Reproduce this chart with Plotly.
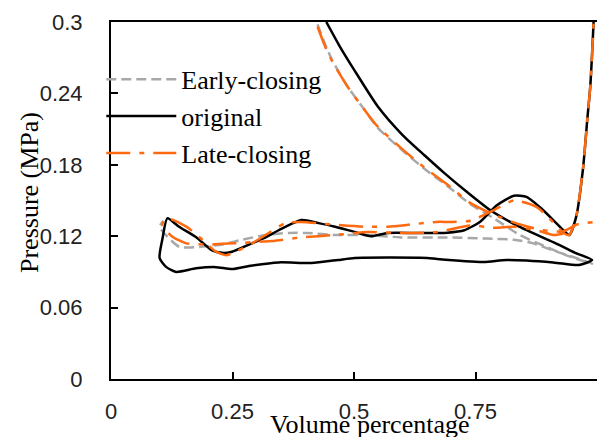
import plotly.graph_objects as go

# ---- data ----
# original (solid black): compression curve -> lower branch back -> upper wavy branch -> vertical rise
orig_x = [0.443, 0.47, 0.5, 0.549, 0.6, 0.645, 0.686, 0.73, 0.78, 0.84, 0.91, 0.955, 0.99,
          0.963, 0.91, 0.814, 0.767, 0.671, 0.651, 0.502, 0.467, 0.412, 0.345, 0.284, 0.249, 0.216,
          0.175, 0.134, 0.114, 0.1,
          0.106, 0.116,
          0.14, 0.176, 0.208, 0.229, 0.249, 0.284, 0.318, 0.345, 0.392, 0.427, 0.461, 0.502, 0.535,
          0.569, 0.631, 0.692, 0.727, 0.759, 0.794, 0.829, 0.855, 0.882, 0.91, 0.931, 0.943,
          0.957, 0.971, 0.98, 0.986, 0.99, 0.993]
orig_y = [0.3, 0.28, 0.26, 0.229, 0.205, 0.188, 0.173, 0.158, 0.142, 0.128, 0.115, 0.106, 0.1,
          0.0958, 0.098, 0.100, 0.0983, 0.1008, 0.1017, 0.1017, 0.100, 0.0975, 0.098, 0.095, 0.0924,
          0.094, 0.093, 0.090, 0.094, 0.1017,
          0.118, 0.135,
          0.128, 0.119, 0.108, 0.106, 0.107, 0.113, 0.119, 0.125, 0.1336, 0.131, 0.128, 0.1235, 0.120,
          0.1227, 0.1227, 0.123, 0.125, 0.132, 0.146, 0.154, 0.153, 0.1445, 0.1336, 0.125, 0.121,
          0.136, 0.176, 0.218, 0.245, 0.274, 0.3]

# Early-closing (grey dashed)
early_x = [0.425, 0.44, 0.455, 0.488, 0.522, 0.549, 0.6, 0.65, 0.69, 0.739, 0.788, 0.841,
           0.89, 0.943, 0.99,
           0.957, 0.91, 0.869, 0.829, 0.773, 0.692, 0.596, 0.529, 0.461, 0.406, 0.365, 0.318,
           0.269, 0.229, 0.182, 0.141, 0.115, 0.1, 0.108]
early_y = [0.298, 0.282, 0.268, 0.245, 0.226, 0.211, 0.192, 0.175, 0.163, 0.147, 0.135, 0.121,
           0.112, 0.103, 0.097,
           0.1017, 0.108, 0.114, 0.117, 0.118, 0.119, 0.119, 0.121, 0.121, 0.1227, 0.1227, 0.121,
           0.117, 0.113, 0.111, 0.111, 0.12, 0.128, 0.133]

# Late-closing (orange dash-dot): compression curve, gap, then loop with vertical rise
late_x = [0.425, 0.44, 0.455, 0.488, 0.522, 0.549, 0.6, 0.65, 0.69, 0.739, 0.788, 0.84,
          0.89, 0.93, 0.96, 1.0, None,
          0.93, 0.91, 0.876, 0.83, 0.79, 0.739, 0.671, 0.6, 0.529, 0.46, 0.392, 0.331, 0.25, 0.2,
          0.155, 0.125, 0.105, 0.116,
          0.155, 0.188, 0.216, 0.237, 0.257, 0.29, 0.318, 0.345, 0.359, 0.392, 0.45, 0.52, 0.57,
          0.62, 0.67, 0.7, 0.74, 0.788, 0.829, 0.876, 0.902, 0.931, 0.943,
          0.957, 0.971, 0.98, 0.986, 0.99, 0.993]
late_y = [0.296, 0.28, 0.267, 0.245, 0.226, 0.212, 0.193, 0.176, 0.164, 0.148, 0.138, 0.13,
          0.125, 0.124, 0.13, 0.132, None,
          0.122, 0.121, 0.125, 0.128, 0.127, 0.129, 0.1235, 0.1227, 0.1235, 0.121, 0.119, 0.116,
          0.114, 0.113, 0.114, 0.12, 0.13, 0.135,
          0.128, 0.117, 0.107, 0.104, 0.107, 0.114, 0.121, 0.128, 0.131, 0.132, 0.13, 0.128, 0.128,
          0.13, 0.132, 0.132, 0.133, 0.142, 0.150, 0.1445, 0.135, 0.1227, 0.121,
          0.136, 0.176, 0.218, 0.245, 0.274, 0.3]

x_ticks = [0, 0.25, 0.5, 0.75, 1]
x_labels = ["0", "0.25", "0.5", "0.75", "1"]
y_ticks = [0, 0.06, 0.12, 0.18, 0.24, 0.3]
y_labels = ["0", "0.06", "0.12", "0.18", "0.24", "0.3"]

GREY = "#A8A8A8"
ORANGE = "#FF6A10"
SERIF = "Liberation Serif, Times New Roman, serif"
SANS = "Liberation Sans, Arial, sans-serif"

fig = go.Figure()
fig.add_trace(go.Scatter(x=early_x, y=early_y, mode="lines", name="Early-closing",
                         line=dict(color=GREY, width=2.5, dash="10px,5px",
                                   shape="spline", smoothing=0.6)))
fig.add_trace(go.Scatter(x=orig_x, y=orig_y, mode="lines", name="original",
                         line=dict(color="black", width=2.5, shape="spline", smoothing=0.6)))
fig.add_trace(go.Scatter(x=late_x, y=late_y, mode="lines", name="Late-closing",
                         line=dict(color=ORANGE, width=2.5, dash="24px,9px,5px,9px",
                                   shape="spline", smoothing=0.6)))

L, R, T, B = 111, 0, 22, 58
W, H = 597, 437
pw = W - L - R
ph = H - T - B


def px_x(x):
    return (x - L) / pw


def px_y(y):
    return (H - B - y) / ph


fig.update_layout(
    width=W, height=H,
    margin=dict(l=L, r=R, t=T, b=B),
    paper_bgcolor="white", plot_bgcolor="white",
    showlegend=True,
    legend=dict(x=-0.02, y=0.905, xanchor="left", yanchor="top",
                bgcolor="rgba(0,0,0,0)", borderwidth=0, itemwidth=70,
                font=dict(family=SERIF, size=26, color="black"),
                tracegroupgap=0),
    annotations=[
        dict(text="Volume percentage", x=px_x(370), y=px_y(424), xref="paper", yref="paper",
             xanchor="center", yanchor="middle",
             showarrow=False, font=dict(family=SERIF, size=26, color="black")),
        dict(text="Pressure (MPa)", x=px_x(29), y=px_y(193), xref="paper", yref="paper",
             xanchor="center", yanchor="middle",
             showarrow=False, textangle=-90, font=dict(family=SERIF, size=26, color="black")),
    ],
)

fig.update_xaxes(range=[0, 1], tickvals=x_ticks, ticktext=x_labels,
                 showline=True, linecolor="black", linewidth=2, mirror=True,
                 ticks="inside", ticklen=7, tickwidth=2, tickcolor="black",
                 showgrid=False, zeroline=False, ticklabelstandoff=12,
                 tickfont=dict(family=SANS, size=22, color="#222"))
fig.update_yaxes(range=[0, 0.3], tickvals=y_ticks, ticktext=y_labels,
                 showline=True, linecolor="black", linewidth=2,
                 ticks="inside", ticklen=7, tickwidth=2, tickcolor="black",
                 showgrid=False, zeroline=False, ticklabelstandoff=22,
                 tickfont=dict(family=SANS, size=22, color="#222"))

fig.write_html("out.html")
